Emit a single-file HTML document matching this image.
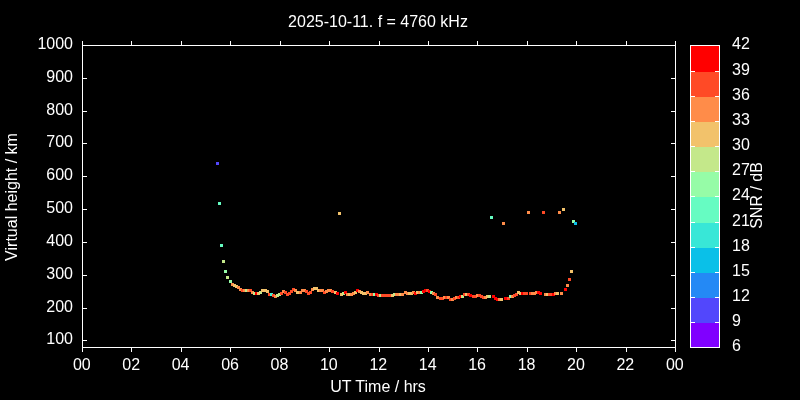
<!DOCTYPE html>
<html lang="en"><head><meta charset="utf-8"><title>Ionogram virtual height plot</title>
<style>html,body{margin:0;padding:0;background:#000;overflow:hidden}body{width:800px;height:400px}</style></head>
<body>
<svg width="800" height="400" viewBox="0 0 800 400" style="display:block">
<rect x="0" y="0" width="800" height="400" fill="#000"/>
<g shape-rendering="crispEdges">
<rect x="216" y="162" width="3" height="3" fill="#5247fc"/>
<rect x="218" y="202" width="3" height="3" fill="#66fcc2"/>
<rect x="220" y="244" width="3" height="3" fill="#66fcc2"/>
<rect x="222" y="260" width="3" height="3" fill="#c4e88a"/>
<rect x="224" y="270" width="3" height="3" fill="#96fca7"/>
<rect x="226" y="276" width="3" height="3" fill="#c4e88a"/>
<rect x="229" y="280" width="3" height="3" fill="#96fca7"/>
<rect x="231" y="283" width="3" height="3" fill="#ff8c49"/>
<rect x="233" y="284" width="3" height="3" fill="#f2c26b"/>
<rect x="235" y="285" width="3" height="3" fill="#f2c26b"/>
<rect x="237" y="286" width="3" height="3" fill="#ff8c49"/>
<rect x="239" y="288" width="3" height="3" fill="#ff8c49"/>
<rect x="241" y="289" width="3" height="3" fill="#ff4a26"/>
<rect x="243" y="289" width="3" height="3" fill="#ff8c49"/>
<rect x="245" y="289" width="3" height="3" fill="#c4e88a"/>
<rect x="247" y="289" width="3" height="3" fill="#ff8c49"/>
<rect x="249" y="289" width="3" height="3" fill="#ff4a26"/>
<rect x="251" y="291" width="3" height="3" fill="#ff8c49"/>
<rect x="253" y="292" width="3" height="3" fill="#c4e88a"/>
<rect x="255" y="292" width="3" height="3" fill="#ff0000"/>
<rect x="257" y="292" width="3" height="3" fill="#f2c26b"/>
<rect x="259" y="291" width="3" height="3" fill="#c4e88a"/>
<rect x="261" y="289" width="3" height="3" fill="#f2c26b"/>
<rect x="264" y="289" width="3" height="3" fill="#f2c26b"/>
<rect x="266" y="290" width="3" height="3" fill="#f2c26b"/>
<rect x="268" y="293" width="3" height="3" fill="#ff4a26"/>
<rect x="270" y="293" width="3" height="3" fill="#48f0cf"/>
<rect x="272" y="294" width="3" height="3" fill="#ff4a26"/>
<rect x="274" y="295" width="3" height="3" fill="#ff8c49"/>
<rect x="276" y="294" width="3" height="3" fill="#c4e88a"/>
<rect x="278" y="293" width="3" height="3" fill="#c4e88a"/>
<rect x="280" y="292" width="3" height="3" fill="#ff4a26"/>
<rect x="282" y="290" width="3" height="3" fill="#ff8c49"/>
<rect x="284" y="291" width="3" height="3" fill="#ff4a26"/>
<rect x="286" y="293" width="3" height="3" fill="#ff4a26"/>
<rect x="288" y="292" width="3" height="3" fill="#ff4a26"/>
<rect x="290" y="290" width="3" height="3" fill="#ff4a26"/>
<rect x="292" y="288" width="3" height="3" fill="#ff4a26"/>
<rect x="294" y="289" width="3" height="3" fill="#ff8c49"/>
<rect x="296" y="291" width="3" height="3" fill="#f2c26b"/>
<rect x="299" y="291" width="3" height="3" fill="#ff8c49"/>
<rect x="301" y="289" width="3" height="3" fill="#ff8c49"/>
<rect x="303" y="289" width="3" height="3" fill="#ff8c49"/>
<rect x="305" y="290" width="3" height="3" fill="#ff4a26"/>
<rect x="307" y="292" width="3" height="3" fill="#ff4a26"/>
<rect x="309" y="291" width="3" height="3" fill="#ff4a26"/>
<rect x="311" y="288" width="3" height="3" fill="#ff8c49"/>
<rect x="313" y="287" width="3" height="3" fill="#f2c26b"/>
<rect x="315" y="287" width="3" height="3" fill="#f2c26b"/>
<rect x="317" y="289" width="3" height="3" fill="#f2c26b"/>
<rect x="319" y="289" width="3" height="3" fill="#ff8c49"/>
<rect x="321" y="289" width="3" height="3" fill="#ff8c49"/>
<rect x="323" y="291" width="3" height="3" fill="#ff4a26"/>
<rect x="325" y="290" width="3" height="3" fill="#ff8c49"/>
<rect x="327" y="289" width="3" height="3" fill="#ff8c49"/>
<rect x="329" y="289" width="3" height="3" fill="#ff8c49"/>
<rect x="331" y="290" width="3" height="3" fill="#ff4a26"/>
<rect x="334" y="291" width="3" height="3" fill="#f2c26b"/>
<rect x="336" y="292" width="3" height="3" fill="#ff0000"/>
<rect x="340" y="293" width="3" height="3" fill="#f2c26b"/>
<rect x="342" y="292" width="3" height="3" fill="#c4e88a"/>
<rect x="344" y="291" width="3" height="3" fill="#ff0000"/>
<rect x="346" y="293" width="3" height="3" fill="#ff8c49"/>
<rect x="348" y="293" width="3" height="3" fill="#f2c26b"/>
<rect x="350" y="293" width="3" height="3" fill="#ff8c49"/>
<rect x="352" y="292" width="3" height="3" fill="#ff8c49"/>
<rect x="354" y="291" width="3" height="3" fill="#f2c26b"/>
<rect x="356" y="289" width="3" height="3" fill="#ff0000"/>
<rect x="358" y="290" width="3" height="3" fill="#ff8c49"/>
<rect x="360" y="291" width="3" height="3" fill="#f2c26b"/>
<rect x="362" y="292" width="3" height="3" fill="#f2c26b"/>
<rect x="364" y="292" width="3" height="3" fill="#f2c26b"/>
<rect x="366" y="291" width="3" height="3" fill="#ff8c49"/>
<rect x="369" y="293" width="3" height="3" fill="#ff8c49"/>
<rect x="371" y="293" width="3" height="3" fill="#ff4a26"/>
<rect x="373" y="293" width="3" height="3" fill="#96fca7"/>
<rect x="375" y="293" width="3" height="3" fill="#ff0000"/>
<rect x="377" y="294" width="3" height="3" fill="#ff4a26"/>
<rect x="379" y="294" width="3" height="3" fill="#c4e88a"/>
<rect x="381" y="294" width="3" height="3" fill="#ff4a26"/>
<rect x="383" y="294" width="3" height="3" fill="#ff4a26"/>
<rect x="385" y="294" width="3" height="3" fill="#ff4a26"/>
<rect x="387" y="294" width="3" height="3" fill="#ff4a26"/>
<rect x="389" y="294" width="3" height="3" fill="#ff4a26"/>
<rect x="391" y="294" width="3" height="3" fill="#f2c26b"/>
<rect x="393" y="293" width="3" height="3" fill="#c4e88a"/>
<rect x="395" y="293" width="3" height="3" fill="#ff8c49"/>
<rect x="397" y="293" width="3" height="3" fill="#ff8c49"/>
<rect x="399" y="293" width="3" height="3" fill="#f2c26b"/>
<rect x="401" y="293" width="3" height="3" fill="#ff8c49"/>
<rect x="404" y="291" width="3" height="3" fill="#ff8c49"/>
<rect x="406" y="292" width="3" height="3" fill="#ff8c49"/>
<rect x="408" y="292" width="3" height="3" fill="#f2c26b"/>
<rect x="410" y="292" width="3" height="3" fill="#f2c26b"/>
<rect x="412" y="291" width="3" height="3" fill="#ff8c49"/>
<rect x="414" y="292" width="3" height="3" fill="#ff0000"/>
<rect x="416" y="291" width="3" height="3" fill="#f2c26b"/>
<rect x="418" y="291" width="3" height="3" fill="#ff8c49"/>
<rect x="420" y="291" width="3" height="3" fill="#96fca7"/>
<rect x="422" y="290" width="3" height="3" fill="#ff0000"/>
<rect x="424" y="289" width="3" height="3" fill="#ff0000"/>
<rect x="426" y="289" width="3" height="3" fill="#ff4a26"/>
<rect x="428" y="290" width="3" height="3" fill="#ff0000"/>
<rect x="430" y="291" width="3" height="3" fill="#96fca7"/>
<rect x="432" y="292" width="3" height="3" fill="#ff8c49"/>
<rect x="434" y="293" width="3" height="3" fill="#ff4a26"/>
<rect x="436" y="296" width="3" height="3" fill="#ff8c49"/>
<rect x="439" y="297" width="3" height="3" fill="#ff4a26"/>
<rect x="441" y="297" width="3" height="3" fill="#ff4a26"/>
<rect x="443" y="296" width="3" height="3" fill="#ff8c49"/>
<rect x="445" y="296" width="3" height="3" fill="#ff4a26"/>
<rect x="447" y="296" width="3" height="3" fill="#ff8c49"/>
<rect x="449" y="298" width="3" height="3" fill="#ff4a26"/>
<rect x="451" y="298" width="3" height="3" fill="#ff8c49"/>
<rect x="453" y="297" width="3" height="3" fill="#ff4a26"/>
<rect x="455" y="296" width="3" height="3" fill="#ff8c49"/>
<rect x="457" y="296" width="3" height="3" fill="#ff4a26"/>
<rect x="459" y="295" width="3" height="3" fill="#ff0000"/>
<rect x="461" y="295" width="3" height="3" fill="#c4e88a"/>
<rect x="463" y="293" width="3" height="3" fill="#ff4a26"/>
<rect x="465" y="293" width="3" height="3" fill="#f2c26b"/>
<rect x="467" y="293" width="3" height="3" fill="#ff4a26"/>
<rect x="469" y="294" width="3" height="3" fill="#ff0000"/>
<rect x="472" y="295" width="3" height="3" fill="#ff4a26"/>
<rect x="474" y="295" width="3" height="3" fill="#ff4a26"/>
<rect x="476" y="294" width="3" height="3" fill="#ff8c49"/>
<rect x="478" y="294" width="3" height="3" fill="#ff4a26"/>
<rect x="480" y="295" width="3" height="3" fill="#ff4a26"/>
<rect x="482" y="296" width="3" height="3" fill="#ff4a26"/>
<rect x="484" y="296" width="3" height="3" fill="#ff8c49"/>
<rect x="486" y="295" width="3" height="3" fill="#f2c26b"/>
<rect x="488" y="295" width="3" height="3" fill="#c4e88a"/>
<rect x="492" y="295" width="3" height="3" fill="#ff0000"/>
<rect x="494" y="297" width="3" height="3" fill="#ff0000"/>
<rect x="496" y="298" width="3" height="3" fill="#ff0000"/>
<rect x="498" y="298" width="3" height="3" fill="#ff8c49"/>
<rect x="500" y="298" width="3" height="3" fill="#f2c26b"/>
<rect x="504" y="297" width="3" height="3" fill="#ff0000"/>
<rect x="507" y="297" width="3" height="3" fill="#ff4a26"/>
<rect x="509" y="295" width="3" height="3" fill="#96fca7"/>
<rect x="511" y="295" width="3" height="3" fill="#ff8c49"/>
<rect x="513" y="294" width="3" height="3" fill="#ff4a26"/>
<rect x="515" y="293" width="3" height="3" fill="#ff4a26"/>
<rect x="517" y="291" width="3" height="3" fill="#f2c26b"/>
<rect x="519" y="292" width="3" height="3" fill="#f2c26b"/>
<rect x="521" y="292" width="3" height="3" fill="#ff0000"/>
<rect x="523" y="292" width="3" height="3" fill="#ff4a26"/>
<rect x="525" y="292" width="3" height="3" fill="#ff4a26"/>
<rect x="529" y="292" width="3" height="3" fill="#ff4a26"/>
<rect x="531" y="292" width="3" height="3" fill="#ff8c49"/>
<rect x="533" y="292" width="3" height="3" fill="#ff8c49"/>
<rect x="535" y="291" width="3" height="3" fill="#ff8c49"/>
<rect x="537" y="291" width="3" height="3" fill="#ff0000"/>
<rect x="539" y="292" width="3" height="3" fill="#ff0000"/>
<rect x="544" y="293" width="3" height="3" fill="#ff8c49"/>
<rect x="546" y="293" width="3" height="3" fill="#f2c26b"/>
<rect x="548" y="293" width="3" height="3" fill="#ff4a26"/>
<rect x="550" y="293" width="3" height="3" fill="#ff4a26"/>
<rect x="552" y="293" width="3" height="3" fill="#ff0000"/>
<rect x="554" y="292" width="3" height="3" fill="#ff8c49"/>
<rect x="556" y="292" width="3" height="3" fill="#f2c26b"/>
<rect x="560" y="292" width="3" height="3" fill="#ff8c49"/>
<rect x="564" y="288" width="3" height="3" fill="#ff0000"/>
<rect x="566" y="284" width="3" height="3" fill="#ff8c49"/>
<rect x="568" y="278" width="3" height="3" fill="#ff4a26"/>
<rect x="570" y="270" width="3" height="3" fill="#f2c26b"/>
<rect x="338" y="212" width="3" height="3" fill="#f2c26b"/>
<rect x="490" y="216" width="3" height="3" fill="#66fcc2"/>
<rect x="502" y="222" width="3" height="3" fill="#ff8c49"/>
<rect x="527" y="211" width="3" height="3" fill="#ff8c49"/>
<rect x="542" y="211" width="3" height="3" fill="#ff4a26"/>
<rect x="558" y="211" width="3" height="3" fill="#ff8c49"/>
<rect x="562" y="208" width="3" height="3" fill="#f2c26b"/>
<rect x="572" y="220" width="3" height="3" fill="#96fca7"/>
<rect x="574" y="222" width="3" height="3" fill="#0ac0e8"/>
</g>
<g stroke="#fff" stroke-width="1" fill="none" shape-rendering="crispEdges">
<rect x="82.5" y="45.5" width="593.0" height="302.0"/>
<line x1="82.5" y1="347.5" x2="82.5" y2="352.0"/>
<line x1="82.5" y1="45.5" x2="82.5" y2="41.0"/>
<line x1="131.5" y1="347.5" x2="131.5" y2="352.0"/>
<line x1="131.5" y1="45.5" x2="131.5" y2="41.0"/>
<line x1="181.5" y1="347.5" x2="181.5" y2="352.0"/>
<line x1="181.5" y1="45.5" x2="181.5" y2="41.0"/>
<line x1="230.5" y1="347.5" x2="230.5" y2="352.0"/>
<line x1="230.5" y1="45.5" x2="230.5" y2="41.0"/>
<line x1="280.5" y1="347.5" x2="280.5" y2="352.0"/>
<line x1="280.5" y1="45.5" x2="280.5" y2="41.0"/>
<line x1="329.5" y1="347.5" x2="329.5" y2="352.0"/>
<line x1="329.5" y1="45.5" x2="329.5" y2="41.0"/>
<line x1="379.5" y1="347.5" x2="379.5" y2="352.0"/>
<line x1="379.5" y1="45.5" x2="379.5" y2="41.0"/>
<line x1="428.5" y1="347.5" x2="428.5" y2="352.0"/>
<line x1="428.5" y1="45.5" x2="428.5" y2="41.0"/>
<line x1="477.5" y1="347.5" x2="477.5" y2="352.0"/>
<line x1="477.5" y1="45.5" x2="477.5" y2="41.0"/>
<line x1="527.5" y1="347.5" x2="527.5" y2="352.0"/>
<line x1="527.5" y1="45.5" x2="527.5" y2="41.0"/>
<line x1="576.5" y1="347.5" x2="576.5" y2="352.0"/>
<line x1="576.5" y1="45.5" x2="576.5" y2="41.0"/>
<line x1="626.5" y1="347.5" x2="626.5" y2="352.0"/>
<line x1="626.5" y1="45.5" x2="626.5" y2="41.0"/>
<line x1="675.5" y1="347.5" x2="675.5" y2="352.0"/>
<line x1="675.5" y1="45.5" x2="675.5" y2="41.0"/>
<line x1="82.5" y1="340.5" x2="87.0" y2="340.5"/>
<line x1="675.5" y1="340.5" x2="671.0" y2="340.5"/>
<line x1="82.5" y1="308.5" x2="87.0" y2="308.5"/>
<line x1="675.5" y1="308.5" x2="671.0" y2="308.5"/>
<line x1="82.5" y1="275.5" x2="87.0" y2="275.5"/>
<line x1="675.5" y1="275.5" x2="671.0" y2="275.5"/>
<line x1="82.5" y1="242.5" x2="87.0" y2="242.5"/>
<line x1="675.5" y1="242.5" x2="671.0" y2="242.5"/>
<line x1="82.5" y1="209.5" x2="87.0" y2="209.5"/>
<line x1="675.5" y1="209.5" x2="671.0" y2="209.5"/>
<line x1="82.5" y1="176.5" x2="87.0" y2="176.5"/>
<line x1="675.5" y1="176.5" x2="671.0" y2="176.5"/>
<line x1="82.5" y1="143.5" x2="87.0" y2="143.5"/>
<line x1="675.5" y1="143.5" x2="671.0" y2="143.5"/>
<line x1="82.5" y1="111.5" x2="87.0" y2="111.5"/>
<line x1="675.5" y1="111.5" x2="671.0" y2="111.5"/>
<line x1="82.5" y1="78.5" x2="87.0" y2="78.5"/>
<line x1="675.5" y1="78.5" x2="671.0" y2="78.5"/>
<line x1="82.5" y1="45.5" x2="87.0" y2="45.5"/>
<line x1="675.5" y1="45.5" x2="671.0" y2="45.5"/>
</g>
<g shape-rendering="crispEdges">
<rect x="690" y="323" width="30" height="25" fill="#8000ff"/>
<rect x="690" y="298" width="30" height="25" fill="#5247fc"/>
<rect x="690" y="273" width="30" height="25" fill="#2489f5"/>
<rect x="690" y="248" width="30" height="25" fill="#0ac0e8"/>
<rect x="690" y="223" width="30" height="25" fill="#38e7d7"/>
<rect x="690" y="197" width="30" height="26" fill="#66fcc2"/>
<rect x="690" y="172" width="30" height="25" fill="#96fca7"/>
<rect x="690" y="147" width="30" height="25" fill="#c4e88a"/>
<rect x="690" y="122" width="30" height="25" fill="#f2c26b"/>
<rect x="690" y="97" width="30" height="25" fill="#ff8c49"/>
<rect x="690" y="72" width="30" height="25" fill="#ff4a26"/>
<rect x="690" y="46" width="30" height="26" fill="#ff0000"/>
</g>
<g stroke="#fff" stroke-width="1" fill="none" shape-rendering="crispEdges">
<rect x="690.5" y="45.5" width="29.0" height="302.0"/>
<line x1="690.5" y1="322.5" x2="695.0" y2="322.5"/>
<line x1="719.5" y1="322.5" x2="715.0" y2="322.5"/>
<line x1="690.5" y1="297.5" x2="695.0" y2="297.5"/>
<line x1="719.5" y1="297.5" x2="715.0" y2="297.5"/>
<line x1="690.5" y1="272.5" x2="695.0" y2="272.5"/>
<line x1="719.5" y1="272.5" x2="715.0" y2="272.5"/>
<line x1="690.5" y1="247.5" x2="695.0" y2="247.5"/>
<line x1="719.5" y1="247.5" x2="715.0" y2="247.5"/>
<line x1="690.5" y1="222.5" x2="695.0" y2="222.5"/>
<line x1="719.5" y1="222.5" x2="715.0" y2="222.5"/>
<line x1="690.5" y1="196.5" x2="695.0" y2="196.5"/>
<line x1="719.5" y1="196.5" x2="715.0" y2="196.5"/>
<line x1="690.5" y1="171.5" x2="695.0" y2="171.5"/>
<line x1="719.5" y1="171.5" x2="715.0" y2="171.5"/>
<line x1="690.5" y1="146.5" x2="695.0" y2="146.5"/>
<line x1="719.5" y1="146.5" x2="715.0" y2="146.5"/>
<line x1="690.5" y1="121.5" x2="695.0" y2="121.5"/>
<line x1="719.5" y1="121.5" x2="715.0" y2="121.5"/>
<line x1="690.5" y1="96.5" x2="695.0" y2="96.5"/>
<line x1="719.5" y1="96.5" x2="715.0" y2="96.5"/>
<line x1="690.5" y1="71.5" x2="695.0" y2="71.5"/>
<line x1="719.5" y1="71.5" x2="715.0" y2="71.5"/>
</g>
<g fill="#fff" font-family='"Liberation Sans", sans-serif' font-size="16px">
<text x="378" y="27" text-anchor="middle">2025-10-11. f = 4760 kHz</text>
<text x="73" y="344.0" text-anchor="end">100</text>
<text x="73" y="312.0" text-anchor="end">200</text>
<text x="73" y="279.0" text-anchor="end">300</text>
<text x="73" y="246.0" text-anchor="end">400</text>
<text x="73" y="213.0" text-anchor="end">500</text>
<text x="73" y="180.0" text-anchor="end">600</text>
<text x="73" y="147.0" text-anchor="end">700</text>
<text x="73" y="115.0" text-anchor="end">800</text>
<text x="73" y="82.0" text-anchor="end">900</text>
<text x="73" y="49.0" text-anchor="end">1000</text>
<text x="81.80" y="370" text-anchor="middle">00</text>
<text x="131.22" y="370" text-anchor="middle">02</text>
<text x="180.63" y="370" text-anchor="middle">04</text>
<text x="230.05" y="370" text-anchor="middle">06</text>
<text x="279.47" y="370" text-anchor="middle">08</text>
<text x="328.88" y="370" text-anchor="middle">10</text>
<text x="378.30" y="370" text-anchor="middle">12</text>
<text x="427.72" y="370" text-anchor="middle">14</text>
<text x="477.13" y="370" text-anchor="middle">16</text>
<text x="526.55" y="370" text-anchor="middle">18</text>
<text x="575.97" y="370" text-anchor="middle">20</text>
<text x="625.38" y="370" text-anchor="middle">22</text>
<text x="674.80" y="370" text-anchor="middle">00</text>
<text x="378" y="392" text-anchor="middle">UT Time / hrs</text>
<text transform="translate(16.8,197) rotate(-90)" text-anchor="middle">Virtual height / km</text>
<text x="732" y="351.0">6</text>
<text x="732" y="326.0">9</text>
<text x="732" y="301.0">12</text>
<text x="732" y="276.0">15</text>
<text x="732" y="251.0">18</text>
<text x="732" y="226.0">21</text>
<text x="732" y="200.0">24</text>
<text x="732" y="175.0">27</text>
<text x="732" y="150.0">30</text>
<text x="732" y="125.0">33</text>
<text x="732" y="100.0">36</text>
<text x="732" y="75.0">39</text>
<text x="732" y="49.0">42</text>
<text transform="translate(762,195.5) rotate(-90)" text-anchor="middle">SNR / dB</text>
</g>
</svg>
</body></html>
